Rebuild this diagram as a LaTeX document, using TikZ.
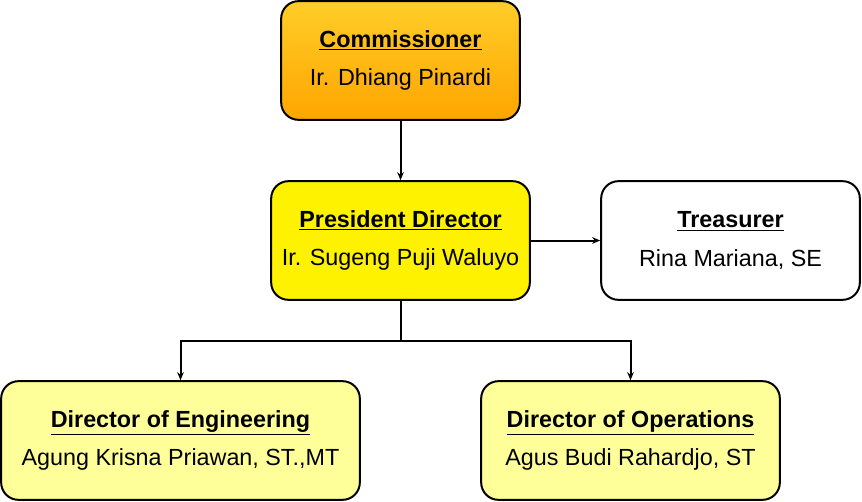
\documentclass[tikz,border=0pt]{standalone}
\usepackage{fontspec}
\setmainfont{Liberation Sans}
\usepackage{xcolor}
\usetikzlibrary{arrows.meta,positioning,calc}
\definecolor{orangetop}{HTML}{FFCD28}
\definecolor{orangebot}{HTML}{FFA500}
\definecolor{paleyellow}{HTML}{FFFF99}

\begin{document}
\begin{tikzpicture}[x=0.75pt, y=-0.75pt,
  box/.style={rectangle, rounded corners=13pt, draw, line width=1.5pt,
    minimum height=89pt, align=center, inner sep=0pt,
    font=\fontsize{17.5}{21}\selectfont},
  arrow/.style={-{Stealth[length=6pt,width=5pt]}, line width=1.5pt},
]
\useasboundingbox (0,0) rectangle (862,502);

% Top
\node[box, top color=orangetop, bottom color=orangebot, minimum width=179pt]
  (comm) at (400.5,60.5) {\underline{\textbf{Commissioner}}\\[8pt]Ir. Dhiang Pinardi};

% Middle
\node[box, fill=yellow, minimum width=194pt] (pres) at (400.5,240.5)
  {\underline{\textbf{President Director}}\\[8pt]Ir. Sugeng Puji Waluyo};
\node[box, fill=white, minimum width=194pt] (treas) at (730.5,240.5)
  {\underline{\textbf{Treasurer}}\\[8pt]Rina Mariana, SE};

% Bottom
\node[box, fill=paleyellow, minimum width=269pt] (eng) at (180.5,440.5)
  {\underline{\textbf{Director of Engineering}}\\[8pt]Agung Krisna Priawan, ST.,MT};
\node[box, fill=paleyellow, minimum width=224pt] (ops) at (630.5,440.5)
  {\underline{\textbf{Director of Operations}}\\[8pt]Agus Budi Rahardjo, ST};

% Arrows
\coordinate (split) at (400.5,340.5);
\draw[arrow] (comm) -- (pres);
\draw[arrow] (pres) -- (treas);
\draw[arrow] (pres.south) -- (split) -| (eng.north);
\draw[arrow] (split) -| (ops.north);
\end{tikzpicture}
\end{document}
